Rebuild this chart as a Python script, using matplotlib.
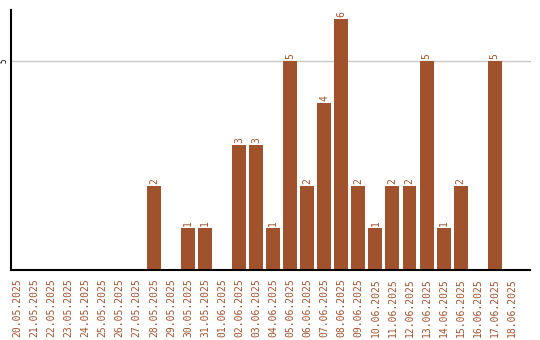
import matplotlib
matplotlib.use("Agg")
import matplotlib.pyplot as plt

dates = ["20.05.2025", "21.05.2025", "22.05.2025", "23.05.2025", "24.05.2025",
         "25.05.2025", "26.05.2025", "27.05.2025", "28.05.2025", "29.05.2025",
         "30.05.2025", "31.05.2025", "01.06.2025", "02.06.2025", "03.06.2025",
         "04.06.2025", "05.06.2025", "06.06.2025", "07.06.2025", "08.06.2025",
         "09.06.2025", "10.06.2025", "11.06.2025", "12.06.2025", "13.06.2025",
         "14.06.2025", "15.06.2025", "16.06.2025", "17.06.2025", "18.06.2025"]
values = [0, 0, 0, 0, 0, 0, 0, 0, 2, 0,
          1, 1, 0, 3, 3, 1, 5, 2, 4, 6,
          2, 1, 2, 2, 5, 1, 2, 0, 5, 0]

color = "#A0522D"
fig = plt.figure(figsize=(5.4, 3.4), dpi=100)
ax = fig.add_axes([10.5/540, 70/340, 520/540, 260/340])

x = list(range(len(dates)))
ax.bar(x, values, width=0.82, color=color, zorder=2)
for xi, v in zip(x, values):
    if v > 0:
        ax.text(xi, v + 0.05, str(v), rotation=90, ha="center", va="bottom",
                fontsize=7, color=color, family="DejaVu Sans Mono")

ax.set_xlim(-0.41, 30.1)
ax.set_ylim(0, 6.22)
ax.set_yticks([5])
ax.set_yticklabels(["5"], rotation=90, va="center", fontsize=5.5, family="DejaVu Sans Mono")
ax.yaxis.grid(True, color="#c8c8c8", linewidth=1, zorder=0)
ax.set_axisbelow(True)
ax.tick_params(axis="y", length=0, pad=1.5)
ax.set_xticks(x)
ax.set_xticklabels(dates, rotation=90, fontsize=7, color=color, family="DejaVu Sans Mono")
ax.tick_params(axis="x", length=0, pad=6)
for s in ["top", "right"]:
    ax.spines[s].set_visible(False)
ax.spines["left"].set_linewidth(1.5)
ax.spines["bottom"].set_linewidth(1.5)

fig.savefig("out.png", dpi=100)
